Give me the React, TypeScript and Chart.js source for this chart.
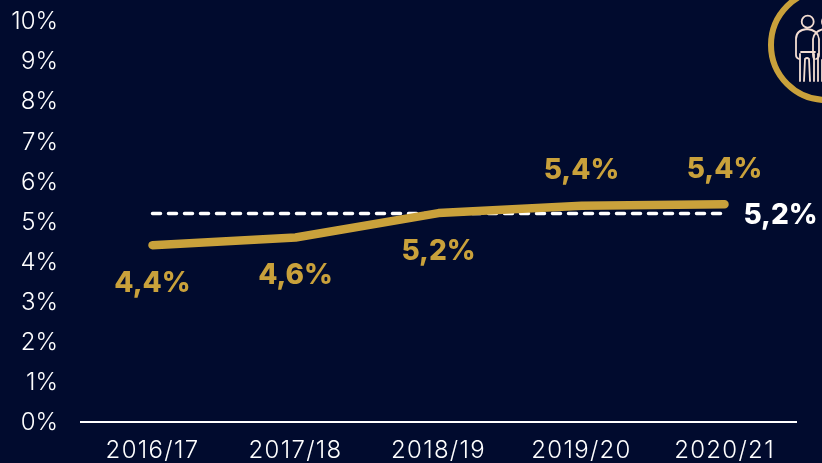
import React, { useEffect, useRef } from "react";
import { Chart, registerables } from "chart.js";

Chart.register(...registerables);

const categories = ["2016/17", "2017/18", "2018/19", "2019/20", "2020/21"];
const seriesValues = [4.41, 4.6, 5.21, 5.39, 5.43];
const referenceValues = [5.2, 5.2, 5.2, 5.2, 5.2];
const seriesLabels = ["4,4%", "4,6%", "5,2%", "5,4%", "5,4%"];
const referenceLabel = "5,2%";
const labelBelow = [true, true, true, false, false];

const BG = "#010b2e";
const GOLD = "#c9a13b";
const WHITE = "#ffffff";
const LABEL_FONT = "800 28px Inter, sans-serif";

const labelPlugin = {
  id: "valueLabels",
  afterDatasetsDraw(chart: any) {
    const { ctx } = chart;
    const meta = chart.getDatasetMeta(0);
    const refMeta = chart.getDatasetMeta(1);
    ctx.save();
    ctx.font = LABEL_FONT;
    ctx.textAlign = "center";
    ctx.textBaseline = "middle";
    ctx.fillStyle = GOLD;
    meta.data.forEach((pt: any, i: number) => {
      ctx.fillText(seriesLabels[i], pt.x, pt.y + (labelBelow[i] ? 38 : -35));
    });
    const last = refMeta.data[refMeta.data.length - 1];
    ctx.fillStyle = WHITE;
    ctx.fillText(referenceLabel, last.x + 56, last.y + 2);
    ctx.restore();
    // the x tick labels are drawn after this hook; they are more widely set
    ctx.letterSpacing = "1.3px";
  },
  afterDraw(chart: any) {
    chart.ctx.letterSpacing = "0px";
  },
};

function noPadding(scale: any) {
  scale.paddingTop = 0;
  scale.paddingBottom = 0;
  scale.paddingLeft = 0;
  scale.paddingRight = 0;
}

export default function App() {
  const ref = useRef<HTMLCanvasElement>(null);
  useEffect(() => {
    if (!ref.current) return;
    const chart = new Chart(ref.current, {
      type: "line",
      data: {
        labels: categories,
        datasets: [
          {
            data: seriesValues,
            borderColor: GOLD,
            borderWidth: 8.5,
            borderCapStyle: "round",
            borderJoinStyle: "round",
            pointRadius: 0,
            tension: 0,
            order: 1,
          },
          {
            data: referenceValues,
            borderColor: WHITE,
            borderWidth: 3.5,
            borderCapStyle: "round",
            borderDash: [8, 8],
            pointRadius: 0,
            tension: 0,
            order: 2,
          },
        ],
      },
      options: {
        animation: false,
        responsive: false,
        layout: { padding: { top: 21, right: 26, left: 0, bottom: 0 } },
        plugins: { legend: { display: false }, tooltip: { enabled: false } },
        scales: {
          x: {
            offset: true,
            grid: { display: false, drawTicks: false, offset: true },
            border: { color: WHITE, width: 2 },
            ticks: {
              color: WHITE,
              font: { family: "Inter, sans-serif", size: 24, weight: "300" },
              padding: 14,
              maxRotation: 0,
              autoSkip: false,
              z: 1,
            },
            afterFit(scale: any) {
              scale.height = 41;
              noPadding(scale);
            },
          },
          y: {
            min: 0,
            max: 10,
            grid: { display: false, drawTicks: false },
            border: { display: false },
            ticks: {
              color: WHITE,
              font: { family: "Inter, sans-serif", size: 24, weight: "300" },
              stepSize: 1,
              padding: 23,
              labelOffset: 1,
              callback: (v: any) => `${v}%`,
            },
            afterFit(scale: any) {
              scale.width = 81;
              noPadding(scale);
            },
          },
        },
      },
      plugins: [labelPlugin],
    } as any);
    return () => chart.destroy();
  }, []);

  return (
    <div style={{ position: "absolute", left: 0, top: 0, width: 822, height: 463, background: BG, overflow: "hidden" }}>
      <canvas ref={ref} width={822} height={463} style={{ display: "block" }} />
      <svg width={822} height={463} style={{ position: "absolute", left: 0, top: 0 }} fill="none">
        <circle cx={826} cy={45} r={55} stroke={GOLD} strokeWidth={6} />
        <g stroke="#f3ddd2" strokeWidth={1.8} strokeLinecap="round" strokeLinejoin="round">
          <circle cx={807.7} cy={21.7} r={6} />
          <path d="M799 59 Q796 58 796 55 V39 Q796 30 807 29 Q818 30 819 39 V55 Q819 58 816 59" />
          <path d="M801 52 H815 M800 54 V81 M804 81 L805 59 Q807 57 809 59 L810 81 M814 54 V81" />
          <circle cx={828} cy={21.7} r={6} />
          <path d="M814 59 Q813 57 813 55 V39 Q814 31 824 29 H832 M818 54 V81 M822 81 V60" />
        </g>
      </svg>
    </div>
  );
}
